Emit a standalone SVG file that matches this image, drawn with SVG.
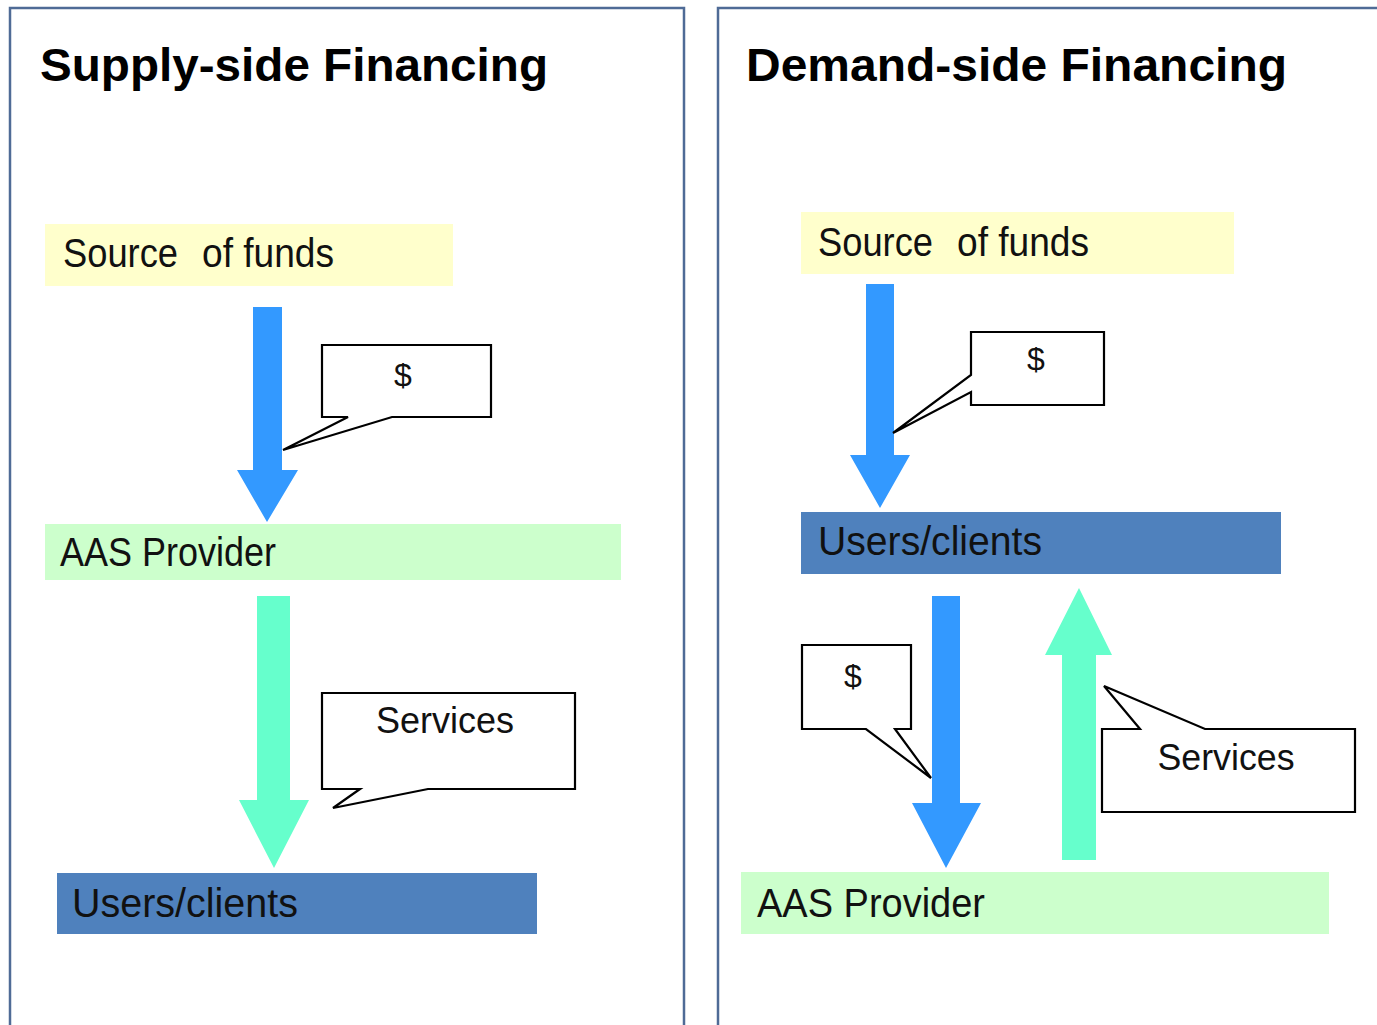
<svg xmlns="http://www.w3.org/2000/svg" width="1377" height="1025" viewBox="0 0 1377 1025">
  <defs>
    <style>
      .panel { fill: #ffffff; stroke: #4f6b96; stroke-width: 2.5; }
      .title { font-family: "Liberation Sans", Arial, sans-serif; font-weight: bold; font-size: 46px; fill: #000; }
      .lbl { font-family: "Liberation Sans", Arial, sans-serif; font-size: 40px; fill: #111; }
      .note { font-family: "Liberation Sans", Arial, sans-serif; font-size: 36px; fill: #111; }
      .dollar { font-family: "Liberation Sans", Arial, sans-serif; font-size: 32px; fill: #111; text-anchor: middle; }
      .src { fill: #ffffcc; }
      .prov { fill: #ccffcc; }
      .users { fill: #4f81bd; }
      .money { fill: #3399ff; }
      .serv { fill: #66ffcc; }
      .callout { fill: #ffffff; stroke: #000; stroke-width: 2.2; stroke-linejoin: miter; }
    </style>
  </defs>
  <rect width="1377" height="1025" fill="#ffffff"/>

  <!-- Supply-side panel -->
  <g id="panel-supply">
    <rect class="panel" x="10" y="8" width="674" height="1030"/>
    <text class="title" x="40" y="81" textLength="508" lengthAdjust="spacingAndGlyphs">Supply-side Financing</text>
  </g>

  <!-- Demand-side panel -->
  <g id="panel-demand">
    <rect class="panel" x="718" y="8" width="680" height="1030"/>
    <text class="title" x="746" y="81" textLength="541" lengthAdjust="spacingAndGlyphs">Demand-side Financing</text>
  </g>

  <!-- Supply-side nodes -->
  <g id="s-source">
    <rect class="src" x="45" y="224" width="408" height="62"/>
    <text class="lbl" y="267"><tspan x="63" textLength="115" lengthAdjust="spacingAndGlyphs">Source</tspan><tspan x="202" textLength="132" lengthAdjust="spacingAndGlyphs">of funds</tspan></text>
  </g>
  <g id="s-provider">
    <rect class="prov" x="45" y="524" width="576" height="56"/>
    <text class="lbl" y="566"><tspan x="60" textLength="72" lengthAdjust="spacingAndGlyphs">AAS</tspan><tspan x="142" textLength="134" lengthAdjust="spacingAndGlyphs">Provider</tspan></text>
  </g>
  <g id="s-users">
    <rect class="users" x="57" y="873" width="480" height="61"/>
    <text class="lbl" x="72" y="917" textLength="226" lengthAdjust="spacingAndGlyphs">Users/clients</text>
  </g>

  <!-- Demand-side nodes -->
  <g id="d-source">
    <rect class="src" x="801" y="212" width="433" height="62"/>
    <text class="lbl" y="256"><tspan x="818" textLength="115" lengthAdjust="spacingAndGlyphs">Source</tspan><tspan x="957" textLength="132" lengthAdjust="spacingAndGlyphs">of funds</tspan></text>
  </g>
  <g id="d-users">
    <rect class="users" x="801" y="512" width="480" height="62"/>
    <text class="lbl" x="818" y="555" textLength="224" lengthAdjust="spacingAndGlyphs">Users/clients</text>
  </g>
  <g id="d-provider">
    <rect class="prov" x="741" y="872" width="588" height="62"/>
    <text class="lbl" x="757" y="917" textLength="228" lengthAdjust="spacingAndGlyphs">AAS Provider</text>
  </g>

  <!-- Flow arrows -->
  <g id="connectors">
    <!-- supply: funds to provider -->
    <polygon class="money" points="253,307 282,307 282,470 298,470 267,522 237,470 253,470"/>
    <!-- supply: provider services to users -->
    <polygon class="serv" points="257,596 290,596 290,800 309,800 274,868 239,800 257,800"/>
    <!-- demand: funds to users -->
    <polygon class="money" points="866,284 894,284 894,455 910,455 880,508 850,455 866,455"/>
    <!-- demand: users pay provider -->
    <polygon class="money" points="932,596 960,596 960,803 981,803 946,868 912,803 932,803"/>
    <!-- demand: provider services to users -->
    <polygon class="serv" points="1062,860 1096,860 1096,655 1112,655 1079,588 1045,655 1062,655"/>
  </g>

  <!-- Callouts -->
  <g id="s-callout-money">
    <path class="callout" d="M322,345 H491 V417 H392 L283,450 L348,417 H322 Z"/>
    <text class="dollar" x="403" y="386">$</text>
  </g>
  <g id="s-callout-services">
    <path class="callout" d="M322,693 H575 V789 H428 L333,808 L360,789 H322 Z"/>
    <text class="note" x="445" y="733" text-anchor="middle" textLength="138" lengthAdjust="spacingAndGlyphs">Services</text>
  </g>
  <g id="d-callout-money-top">
    <path class="callout" d="M971,332 H1104 V405 H971 V392 L893,433 L971,375 Z"/>
    <text class="dollar" x="1036" y="370">$</text>
  </g>
  <g id="d-callout-money-low">
    <path class="callout" d="M802,645 H911 V729 H895 L931,778 L866,729 H802 Z"/>
    <text class="dollar" x="853" y="687">$</text>
  </g>
  <g id="d-callout-services">
    <path class="callout" d="M1102,729 H1140 L1104,686 L1205,729 H1355 V812 H1102 Z"/>
    <text class="note" x="1226" y="770" text-anchor="middle" textLength="137" lengthAdjust="spacingAndGlyphs">Services</text>
  </g>
</svg>
